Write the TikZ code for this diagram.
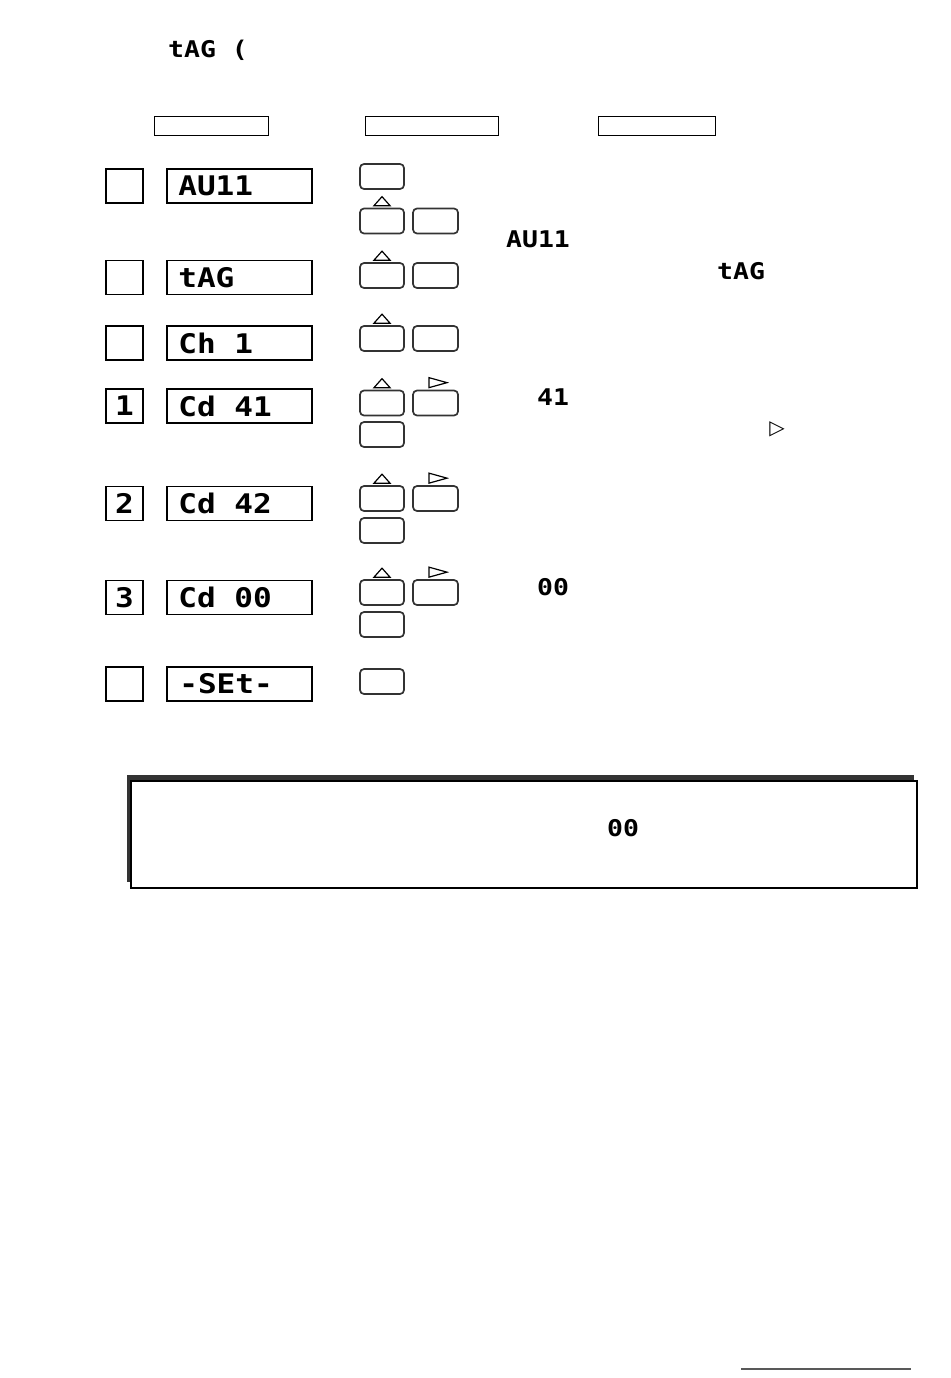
\documentclass[tikz,border=0pt]{standalone}
\usepackage{fontspec}
\newfontfamily\lcd[FakeStretch=1.15]{DejaVu Sans Mono}
\newfontfamily\symfont{DejaVu Sans}
\usetikzlibrary{positioning, shapes.misc}
\tikzset{
	headbox/.style={
			draw=black,
			line width=0.9pt,
			minimum height=19pt,
			inner sep=0pt
		},
	stepbox/.style={
			draw=black,
			line width=1.7pt,
			minimum width=37pt,
			minimum height=34pt,
			inner sep=0pt,
			font=\lcd\bfseries\fontsize{27}{27}\selectfont
		},
	lcdbox/.style={
			draw=black,
			line width=1.7pt,
			minimum width=145pt,
			minimum height=34pt,
			inner sep=0pt
		},
	lcdtext/.style={
			inner sep=0pt,
			font=\lcd\bfseries\fontsize{27}{27}\selectfont
		},
	lcdsmall/.style={
			inner sep=0pt,
			anchor=base west,
			font=\lcd\bfseries\fontsize{23}{23}\selectfont
		},
	keybox/.style={
			draw=black!80,
			line width=1.7pt,
			rounded corners=4pt,
			minimum height=25pt,
			inner sep=0pt
		},
	keyL/.style={keybox, minimum width=44pt},
	keyR/.style={keybox, minimum width=45pt},
	tipline/.style={draw=black, line width=1.2pt, line join=miter}
}
\newcommand{\upkey}[1]{\draw[tipline] ([yshift=2pt]#1.north) ++(-8,0) -- ++(16,0) -- ++(-8,-9) -- cycle;}
\newcommand{\rightkey}[1]{\draw[tipline] ([xshift=-6.5pt,yshift=2pt]#1.north) -- ++(0,-10) -- ++(18,5) -- cycle;}
\begin{document}
\begin{tikzpicture}[x=1pt,y=-1pt]
\useasboundingbox (0,0) rectangle (950,1378);

\node[lcdsmall] (title) at (168,58) {tAG (};

\node[headbox, minimum width=114pt] (hA) at (211,125.5) {};
\node[headbox, minimum width=133pt] (hB) at (431.5,125.5) {};
\node[headbox, minimum width=117pt] (hC) at (656.5,125.5) {};

\node[stepbox] (sA) at (124.5,186) {};
\node[stepbox] (sB) at (124.5,277.5) {};
\node[stepbox] (sC) at (124.5,343) {};
\node[stepbox] (sD) at (124.5,406) {1};
\node[stepbox] (sE) at (124.5,503.5) {2};
\node[stepbox] (sF) at (124.5,597.5) {3};
\node[stepbox] (sG) at (124.5,684) {};

\node[lcdbox] (dA) at (239.5,186) {};
\node[lcdbox] (dB) at (239.5,277.5) {};
\node[lcdbox] (dC) at (239.5,343) {};
\node[lcdbox] (dD) at (239.5,406) {};
\node[lcdbox] (dE) at (239.5,503.5) {};
\node[lcdbox] (dF) at (239.5,597.5) {};
\node[lcdbox] (dG) at (239.5,684) {};

\node[lcdtext, right=12pt of dA.west] (tA) {AU11};
\node[lcdtext, right=12pt of dB.west] (tB) {tAG};
\node[lcdtext, right=12pt of dC.west] (tC) {Ch 1};
\node[lcdtext, right=12pt of dD.west] (tD) {Cd 41};
\node[lcdtext, right=12pt of dE.west] (tE) {Cd 42};
\node[lcdtext, right=12pt of dF.west] (tF) {Cd 00};
\node[lcdtext, right=13pt of dG.west] (tG) {-SEt-};

\node[keyL] (kA) at (382,176.5) {};
\node[keyL] (kB) at (382,221) {};
\node[keyR] (kBr) at (435.5,221) {};
\node[keyL] (kC) at (382,275.5) {};
\node[keyR] (kCr) at (435.5,275.5) {};
\node[keyL] (kD) at (382,338.5) {};
\node[keyR] (kDr) at (435.5,338.5) {};
\node[keyL] (kE) at (382,403) {};
\node[keyR] (kEr) at (435.5,403) {};
\node[keyL] (kEb) at (382,434.5) {};
\node[keyL] (kF) at (382,498.5) {};
\node[keyR] (kFr) at (435.5,498.5) {};
\node[keyL] (kFb) at (382,530.5) {};
\node[keyL] (kG) at (382,592.5) {};
\node[keyR] (kGr) at (435.5,592.5) {};
\node[keyL] (kGb) at (382,624.5) {};
\node[keyL] (kH) at (382,681.5) {};

\upkey{kB}
\upkey{kC}
\upkey{kD}
\upkey{kE}
\upkey{kF}
\upkey{kG}
\rightkey{kEr}
\rightkey{kFr}
\rightkey{kGr}

\node[lcdsmall] (iA) at (506,247) {AU11};
\node[lcdsmall] (iB) at (717,279) {tAG};
\node[lcdsmall] (iC) at (537,405) {41};
\node[inner sep=0pt, font=\symfont\fontsize{20}{20}\selectfont] (iD) at (777,429) {▷};
\node[lcdsmall] (iE) at (537,595) {00};

\fill[black!80] (127,775) rectangle (914,882);
\node[draw=black, line width=1.1pt, fill=white, minimum width=786pt, minimum height=107pt, inner sep=0pt] (note) at (524,834.5) {};
\node[lcdsmall] (nA) at (607,836) {00};

\draw[black!65, line width=2.4pt] (741,1369) -- (911,1369);
\end{tikzpicture}
\end{document}
